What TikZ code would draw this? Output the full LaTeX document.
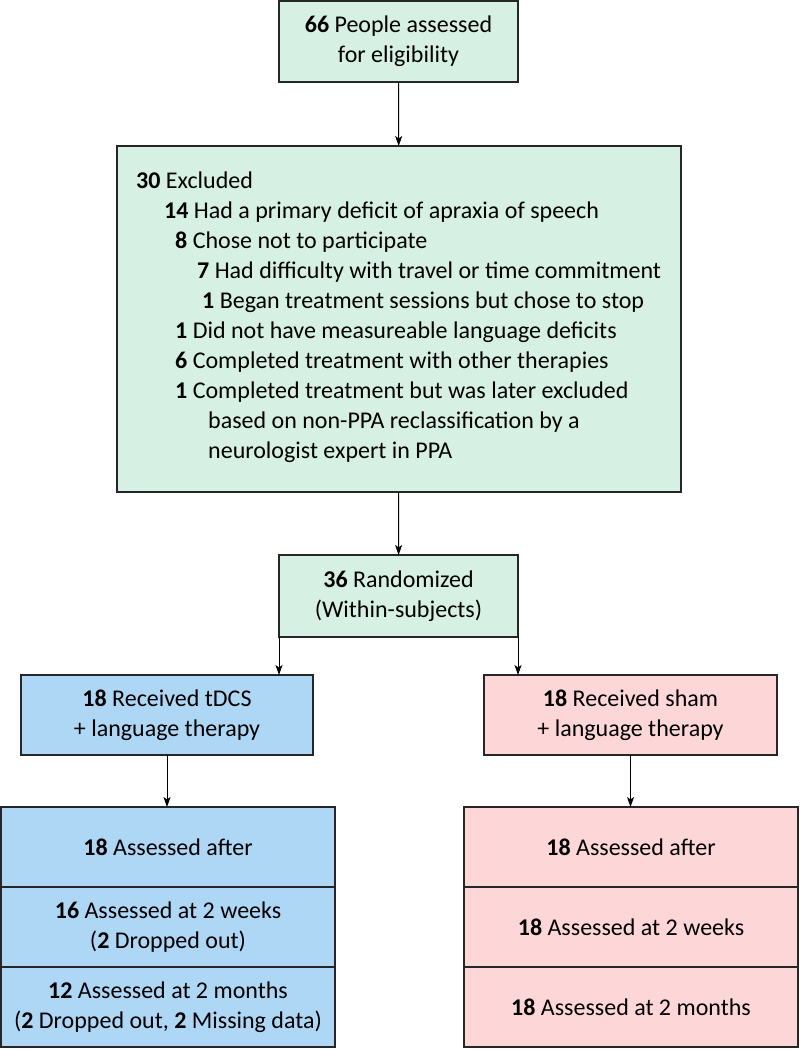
\documentclass[tikz,border=0pt]{standalone}
\usepackage{fontspec}
\setmainfont{Carlito}
\usetikzlibrary{arrows.meta}
\definecolor{boxgreen}{RGB}{214,241,227}
\definecolor{boxblue}{RGB}{174,214,245}
\definecolor{boxpink}{RGB}{253,214,216}

\begin{document}
\begin{tikzpicture}[x=1pt,y=-1pt,
    flow/.style={line width=1pt,-{Stealth[length=10pt,width=7pt,inset=2.5pt]}}]
  \useasboundingbox (0,0) rectangle (800,1050);
  \fontsize{24}{30}\selectfont
  \begin{scope}[line width=1.6pt]
    \tikzstyle{every node}=[draw=black!85,inner sep=0pt,outer sep=0pt,align=center,
      font=\fontsize{24}{30}\selectfont]
    \node[fill=boxgreen,minimum width=239pt,minimum height=81pt] (E) at (398.5,41.5)
      {\textbf{66} People assessed\\for eligibility};
    \node[fill=boxgreen,minimum width=564pt,minimum height=346pt] (X) at (399,319) {};
    \node[fill=boxgreen,minimum width=239pt,minimum height=82pt] (R) at (398.5,596)
      {\textbf{36} Randomized\\(Within-subjects)};
    \node[fill=boxblue,minimum width=292pt,minimum height=80pt] (T) at (167,715)
      {\textbf{18} Received tDCS\\+ language therapy};
    \node[fill=boxpink,minimum width=293pt,minimum height=80pt] (S) at (630.5,715)
      {\textbf{18} Received sham\\+ language therapy};
    % follow-up, tDCS arm
    \node[fill=boxblue,minimum width=334pt,minimum height=80pt] (T1) at (168,847)
      {\textbf{18} Assessed after};
    \node[fill=boxblue,minimum width=334pt,minimum height=80pt] (T2) at (168,927)
      {\textbf{16} Assessed at 2 weeks\\(\textbf{2} Dropped out)};
    \node[fill=boxblue,minimum width=334pt,minimum height=80pt] (T3) at (168,1007)
      {\textbf{12} Assessed at 2 months\\(\textbf{2} Dropped out, \textbf{2} Missing data)};
    % follow-up, sham arm
    \node[fill=boxpink,minimum width=334pt,minimum height=80pt] (S1) at (631,847)
      {\textbf{18} Assessed after};
    \node[fill=boxpink,minimum width=334pt,minimum height=80pt] (S2) at (631,927)
      {\textbf{18} Assessed at 2 weeks};
    \node[fill=boxpink,minimum width=334pt,minimum height=80pt] (S3) at (631,1007)
      {\textbf{18} Assessed at 2 months};
  \end{scope}
  \begin{scope}
    \tikzstyle{every node}=[anchor=base west,inner sep=0pt]
    \node (X1)  at (136,188) {\textbf{30} Excluded};
    \node (X2)  at (164,218) {\textbf{14} Had a primary deficit of apraxia of speech};
    \node (X3)  at (175,248) {\textbf{8} Chose not to participate};
    \node (X4)  at (197,278) {\textbf{7} Had difficulty with travel or time commitment};
    \node (X5)  at (202,308) {\textbf{1} Began treatment sessions but chose to stop};
    \node (X6)  at (175,338) {\textbf{1} Did not have measureable language deficits};
    \node (X7)  at (175,368) {\textbf{6} Completed treatment with other therapies};
    \node (X8)  at (175,398) {\textbf{1} Completed treatment but was later excluded};
    \node (X9)  at (208,428) {based on non-PPA reclassification by a};
    \node (X10) at (208,458) {neurologist expert in PPA};
  \end{scope}
  \draw[flow] (E) -- (X);
  \draw[flow] (X) -- (R);
  \draw[flow] (R.south west) -- (R.south west |- T.north);
  \draw[flow] (R.south east) -- (R.south east |- S.north);
  \draw[flow] (T) -- (T |- T1.north);
  \draw[flow] (S) -- (S |- S1.north);
\end{tikzpicture}
\end{document}
